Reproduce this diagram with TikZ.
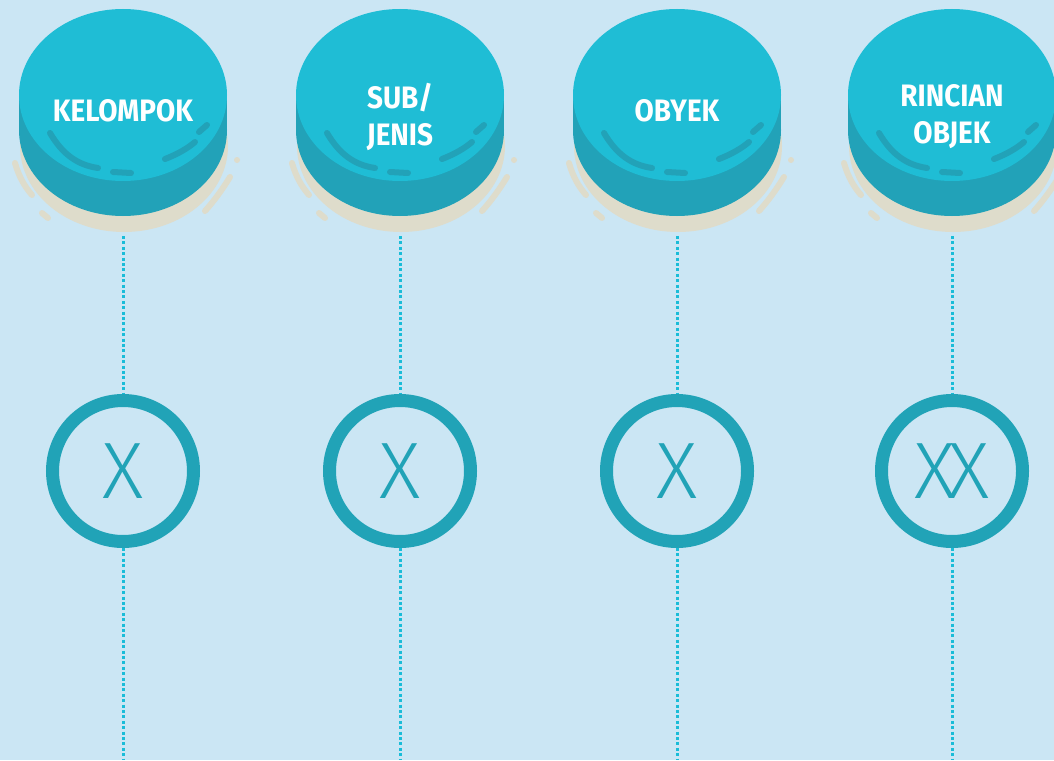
\documentclass[tikz,border=0pt]{standalone}
\usepackage{fontspec}
\newfontfamily\labelfont{Fira Sans}[FakeStretch=0.9]
\newfontfamily\markfont{Fira Sans Light}
\definecolor{bg}{RGB}{203,230,244}
\definecolor{face}{RGB}{31,189,213}
\definecolor{side}{RGB}{34,162,184}
\definecolor{sandtone}{RGB}{222,220,203}
\definecolor{ring}{RGB}{33,163,183}
\definecolor{guide}{RGB}{25,188,216}

\tikzset{
  gloss/.style={line width=6pt, line cap=round},
  title/.style={text=white, align=center, inner sep=0pt,
    font=\labelfont\bfseries\fontsize{31}{37}\selectfont},
  ringnode/.style={circle, draw=ring, line width=13pt, minimum size=141pt,
    inner sep=0pt, text=ring, font=\markfont\fontsize{80}{80}\selectfont},
  guide line/.style={draw=guide, line width=3pt, dash pattern=on 3pt off 2.4pt},
  % a round push button seen from slightly above, origin at its top centre
  pics/button/.style={code={
    \fill[sandtone] (1,146) ellipse [x radius=104pt, y radius=86pt];
    \fill[side] (0,130) ellipse [x radius=104pt, y radius=86pt];
    \fill[side] (-104,95) rectangle (104,130);
    \fill[face] (0,95) ellipse [x radius=104pt, y radius=86pt];
    \draw[side, gloss] (-73,133) .. controls (-60,155) and (-45,165) .. (-25,168);
    \draw[side, gloss] (-10,172) -- (8,173);
    \draw[side, gloss] (42,159) .. controls (55,154) and (65,148) .. (72,142);
    \draw[side, gloss] (76,132) -- (84,125);
    \draw[sandtone, gloss] (-108,163) .. controls (-104,177) and (-98,187) .. (-91,195);
    \draw[sandtone, gloss] (-81,213) -- (-75,218);
    \draw[sandtone, gloss] (107,177) .. controls (99,190) and (91,201) .. (82,211);
    \fill[sandtone] (114,160) circle (3pt);
  }},
}

\begin{document}
\begin{tikzpicture}[x=1pt, y=-1pt]
  \fill[bg] (0,0) rectangle (1054,760);
  \useasboundingbox (0,0) rectangle (1054,760);

  % buttons
  \pic at (123,0) {button};
  \pic at (400,0) {button};
  \pic at (677,0) {button};
  \pic at (952,0) {button};

  \node[title] (t1) at (123,111) {KELOMPOK};
  \node[title] (t2) at (400,116.5) {SUB/\\JENIS};
  \node[title] (t3) at (677,111) {OBYEK};
  \node[title] (t4) at (952,116.5) {RINCIAN\\OBJEK};

  % code-length rings
  \node[ringnode] (c1) at (123,471) {X};
  \node[ringnode] (c2) at (400,471) {X};
  \node[ringnode] (c3) at (677,471) {X};
  \node[ringnode] (c4) at (952,471) {X\kern-8pt X};

  % guide line anchors
  \coordinate (b1) at (123,236);
  \coordinate (b2) at (400,236);
  \coordinate (b3) at (677,236);
  \coordinate (b4) at (952,236);
  \coordinate (e1) at (123,760);
  \coordinate (e2) at (400,760);
  \coordinate (e3) at (677,760);
  \coordinate (e4) at (952,760);

  \foreach \i in {1,2,3,4} {
    \draw[guide line] (b\i) -- (c\i);
    \draw[guide line] (c\i) -- (e\i);
  }
\end{tikzpicture}
\end{document}
